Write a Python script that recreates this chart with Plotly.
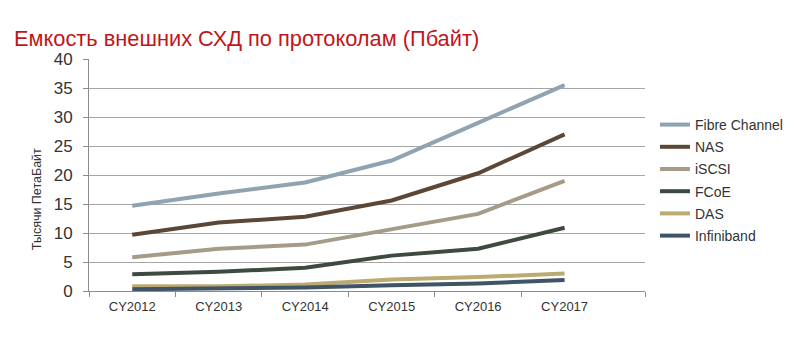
import plotly.graph_objects as go

years = ["CY2012", "CY2013", "CY2014", "CY2015", "CY2016", "CY2017"]
fibre_channel = [14.7, 16.8, 18.7, 22.5, 29.0, 35.5]
nas = [9.7, 11.8, 12.8, 15.6, 20.3, 27.0]
iscsi = [5.8, 7.3, 8.0, 10.6, 13.3, 19.0]
fcoe = [2.9, 3.3, 4.0, 6.1, 7.3, 10.9]
das = [0.8, 0.8, 1.1, 2.0, 2.4, 3.0]
infiniband = [0.3, 0.4, 0.6, 1.0, 1.3, 1.9]

series = [
    ("Fibre Channel", fibre_channel, "#8fa3b0"),
    ("NAS", nas, "#5c4736"),
    ("iSCSI", iscsi, "#a59b87"),
    ("FCoE", fcoe, "#3d4a3f"),
    ("DAS", das, "#bcaa72"),
    ("Infiniband", infiniband, "#3f5467"),
]

idx = list(range(len(years)))
x_end = 5.93
boundaries = [i - 0.5 for i in idx] + [x_end]

fig = go.Figure()
for name, vals, col in series:
    fig.add_trace(go.Scatter(
        x=idx, y=vals, name=name, mode="lines",
        line=dict(color=col, width=4), legendgroup=name,
    ))

W, H = 800, 351
L, R, T, B = 89, 647, 59, 291

fig.update_layout(
    width=W, height=H,
    margin=dict(l=L, r=W - R, t=T, b=H - B, pad=0),
    paper_bgcolor="white", plot_bgcolor="white",
    font=dict(family="Liberation Sans, Arial, sans-serif", color="#333333"),
    showlegend=True,
    legend=dict(
        x=(657 - L) / (R - L), y=1 - (109 - T) / (B - T),
        xanchor="left", yanchor="top",
        font=dict(size=14, color="#333333"),
        tracegroupgap=1, bgcolor="rgba(0,0,0,0)", itemwidth=30,
    ),
    xaxis=dict(
        type="linear", range=[-0.5, x_end],
        tickvals=idx, ticktext=years, ticks="",
        showgrid=False, zeroline=False,
        showline=True, linecolor="#8c8c8c", linewidth=1,
        minor=dict(tickvals=boundaries, ticks="outside", ticklen=5,
                   tickcolor="#8c8c8c", showgrid=False),
        tickfont=dict(size=13, color="#333333"), ticklabelstandoff=3,
    ),
    yaxis=dict(
        range=[0, 40], dtick=5, showgrid=True, gridcolor="#a6a6a6", gridwidth=1,
        showline=True, linecolor="#8c8c8c", linewidth=1,
        ticks="outside", ticklen=5, tickcolor="#8c8c8c",
        tickfont=dict(size=17, color="#333333"),
        ticklabelstandoff=7, zeroline=False,
    ),
    title=dict(
        text="Емкость внешних СХД по протоколам (Пбайт)",
        x=14 / W, xref="container", xanchor="left",
        y=1 - 38 / H, yref="container", yanchor="middle",
        font=dict(size=21.8, color="#c0161b", family="Liberation Sans, Arial, sans-serif"),
    ),
)

fig.add_annotation(
    text="Тысячи ПетаБайт", textangle=-90,
    xref="paper", yref="paper",
    x=(37 - L) / (R - L), y=1 - (199 - T) / (B - T),
    xanchor="center", yanchor="middle", showarrow=False,
    font=dict(size=12.5, color="#333333"),
)

fig.write_html("out.html")
